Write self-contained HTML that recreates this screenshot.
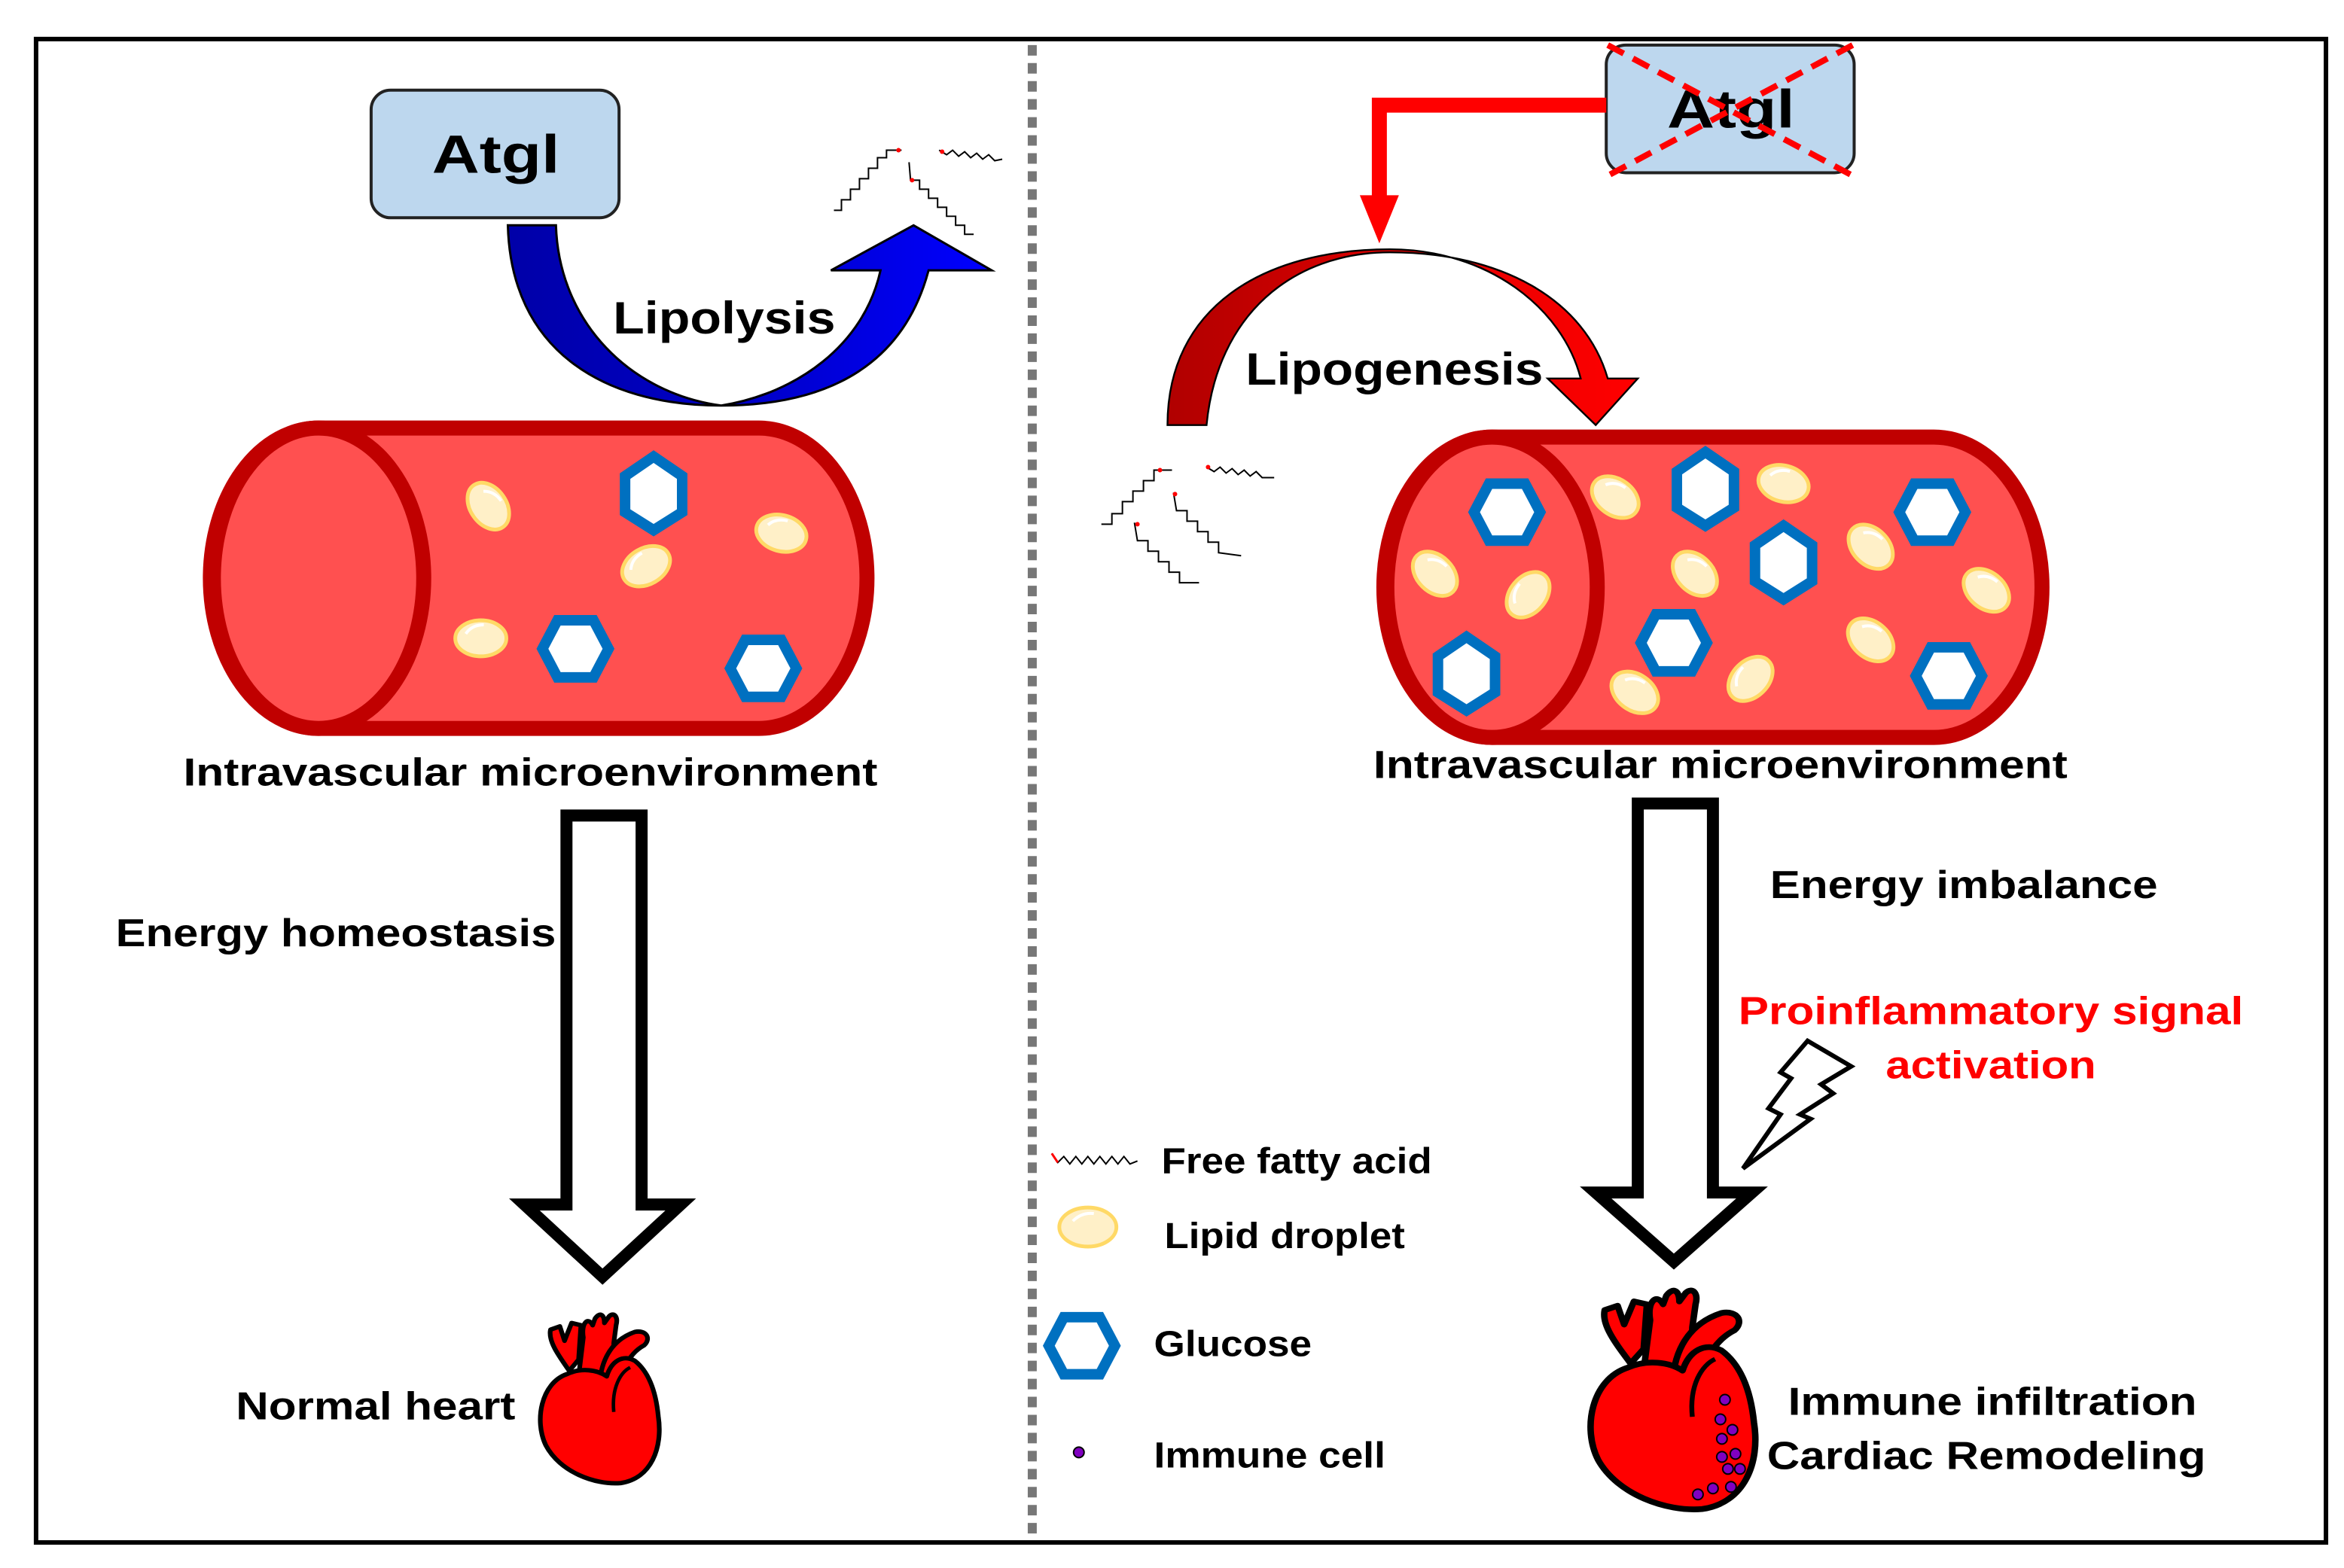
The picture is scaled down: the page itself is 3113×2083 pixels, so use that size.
<!DOCTYPE html>
<html><head><meta charset="utf-8"><style>
html,body{margin:0;padding:0;background:#fff}
svg{display:block}
text{font-family:"Liberation Sans",Arial,sans-serif;font-weight:bold}
</style></head><body>
<svg width="3113" height="2083" viewBox="0 0 1560 1044" preserveAspectRatio="none" xmlns="http://www.w3.org/2000/svg">
<defs>
<linearGradient id="bl" x1="0" x2="1" y1="0" y2="0"><stop offset="0" stop-color="#0000a8"/><stop offset="0.5" stop-color="#0000c8"/><stop offset="1" stop-color="#0000ff"/></linearGradient>
<linearGradient id="rd" x1="0" x2="1" y1="0" y2="0"><stop offset="0" stop-color="#b00000"/><stop offset="0.5" stop-color="#e00000"/><stop offset="1" stop-color="#ff0000"/></linearGradient>
<g id="drop"><ellipse rx="17" ry="12" fill="#fff0c8" stroke="#ffd966" stroke-width="2.5"/><path d="M-10,-3 Q-6,-9 2,-9" stroke="#fff" stroke-width="2" fill="none"/></g>
<g id="hex"><polygon points="-12,-19 12,-19 22,0 12,19 -12,19 -22,0" fill="#fff" stroke="#0070c0" stroke-width="7"/></g>
<g id="hexv"><polygon points="0,-24 19,-11 19,13 0,25 -19,13 -19,-11" fill="#fff" stroke="#0070c0" stroke-width="7"/></g>
<g id="heart">
<path d="M28,55 C18,40 10,28 12,18 L20,15 L24,28 L30,12 L38,14 L36,45 Z" fill="#f00" stroke="#000" stroke-width="4" stroke-linejoin="round"/>
<path d="M36,60 L40,25 C38,12 44,6 48,14 L50,8 C54,2 58,4 58,12 L62,6 C66,2 70,6 68,14 L66,30 C66,40 62,55 60,70 Z" fill="#f00" stroke="#000" stroke-width="4" stroke-linejoin="round"/>
<path d="M54,80 C52,50 62,28 84,20 C94,18 98,26 92,32 C78,40 70,58 70,82 Z" fill="#f00" stroke="#000" stroke-width="4" stroke-linejoin="round"/>
<path d="M26,58 C4,66 -2,100 8,122 C20,146 50,158 72,156 C98,152 108,124 104,96 C102,74 96,56 84,46 C74,40 64,46 60,60 C52,54 38,52 26,58 Z" fill="#f00" stroke="#000" stroke-width="4" stroke-linejoin="round"/>
<path d="M66,92 C64,70 72,56 80,52" fill="none" stroke="#000" stroke-width="3"/>
</g>
<g id="ffa" fill="none" stroke="#000" stroke-width="1"><polyline points="0,0 3,0 3,-4 7,-4 7,-8 11,-8 11,-12 15,-12 15,-16 19,-16 19,-20 23,-20 23,-24 27,-24 27,-28 33,-28"/></g>
</defs>

<rect x="24" y="26" width="1524" height="1001" fill="#fff" stroke="#000" stroke-width="3"/>
<line x1="687" y1="30" x2="687" y2="1025" stroke="#777" stroke-width="6" stroke-dasharray="7,5"/>

<!-- LEFT -->
<rect x="247" y="60" width="165" height="85" rx="13" fill="#bdd7ee" stroke="#222" stroke-width="2"/>
<text x="330" y="115" font-size="36" text-anchor="middle" textLength="85" lengthAdjust="spacingAndGlyphs">Atgl</text>
<path d="M338,150 L370,150 C372,215 420,262 480,270 C530,262 575,230 586,180 L553,180 L608,150 L660,180 L618,180 C602,240 555,270 480,270 C400,270 340,232 338,150 Z" fill="url(#bl)" stroke="#000" stroke-width="1.5"/>
<text x="482" y="222" font-size="30" text-anchor="middle" textLength="148" lengthAdjust="spacingAndGlyphs">Lipolysis</text>
<g fill="none" stroke="#000" stroke-width="1">
<polyline points="555,140 560,140 560,133 566,133 566,126 572,126 572,119 578,119 578,112 584,112 584,105 590,105 590,100 600,100"/>
<polyline points="605,108 606,120 612,120 612,126 618,126 618,132 624,132 624,138 630,138 630,144 636,144 636,150 642,150 642,156 648,156"/>
<polyline points="625,100 630,103 634,100 638,104 642,101 646,105 650,102 654,106 658,103 662,107 667,106"/>
</g>
<circle cx="598" cy="100" r="1.5" fill="red"/><circle cx="607" cy="120" r="1.5" fill="red"/><circle cx="627" cy="101" r="1.5" fill="red"/>

<path d="M212,285 L505,285 A72,100 0 0 1 505,485 L212,485 A72,100 0 0 1 212,285 Z" fill="#ff5050" stroke="#c00000" stroke-width="10"/>
<ellipse cx="212" cy="385" rx="70" ry="100" fill="#ff5050" stroke="#c00000" stroke-width="10"/>
<use href="#drop" transform="translate(325,337) rotate(55)"/>
<use href="#drop" transform="translate(520,355) rotate(15)"/>
<use href="#drop" transform="translate(430,377) rotate(-30)"/>
<use href="#drop" transform="translate(320,425) rotate(0)"/>
<use href="#hexv" transform="translate(435,328)"/>
<use href="#hex" transform="translate(383,432)"/>
<use href="#hex" transform="translate(508,445)"/>
<text x="353" y="523" font-size="26" text-anchor="middle" textLength="462" lengthAdjust="spacingAndGlyphs">Intravascular microenvironment</text>

<path d="M377,543 L427,543 L427,802 L453,802 L401,850 L349,802 L377,802 Z" fill="#fff" stroke="#000" stroke-width="8" stroke-linejoin="miter"/>
<text x="77" y="630" font-size="26" textLength="293" lengthAdjust="spacingAndGlyphs">Energy homeostasis</text>
<use href="#heart" transform="translate(357,872) scale(0.78,0.74)"/>
<text x="157" y="945" font-size="26" textLength="186" lengthAdjust="spacingAndGlyphs">Normal heart</text>

<!-- RIGHT -->
<rect x="1069" y="30" width="165" height="85" rx="13" fill="#bdd7ee" stroke="#222" stroke-width="2"/>
<text x="1152" y="85" font-size="36" text-anchor="middle" textLength="85" lengthAdjust="spacingAndGlyphs">Atgl</text>
<g stroke="#f00" stroke-width="4" stroke-dasharray="12,7"><line x1="1070" y1="30" x2="1233" y2="117"/><line x1="1233" y1="30" x2="1070" y2="117"/></g>
<path d="M1069,65 L913,65 L913,130 L905,130 L918,162 L931,130 L923,130 L923,75 L1069,75 Z" fill="#f00"/>
<path d="M777,283 C777,205 840,166 925,166 C990,166 1040,205 1052,252 L1030,252 L1062,283 L1090,252 L1070,252 C1055,200 1000,168 925,168 C860,168 810,210 803,283 Z" fill="url(#rd)" stroke="#000" stroke-width="1.2"/>
<text x="928" y="256" font-size="30" text-anchor="middle" textLength="198" lengthAdjust="spacingAndGlyphs">Lipogenesis</text>
<g fill="none" stroke="#000" stroke-width="1">
<polyline points="733,349 740,349 740,342 747,342 747,334 754,334 754,327 761,327 761,320 768,320 768,313 780,313"/>
<polyline points="755,348 757,360 764,360 764,367 771,367 771,374 778,374 778,381 785,381 785,388 798,388"/>
<polyline points="781,328 783,340 790,340 790,347 797,347 797,354 804,354 804,361 811,361 811,368 826,370"/>
<polyline points="803,311 808,314 812,311 816,315 820,312 824,316 828,313 832,317 836,314 840,318 848,318"/>
</g>
<circle cx="772" cy="313" r="1.5" fill="red"/><circle cx="782" cy="329" r="1.5" fill="red"/><circle cx="757" cy="349" r="1.5" fill="red"/><circle cx="804" cy="311" r="1.5" fill="red"/>

<path d="M993,291 L1287,291 A72,100 0 0 1 1287,491 L993,491 A72,100 0 0 1 993,291 Z" fill="#ff5050" stroke="#c00000" stroke-width="10"/>
<ellipse cx="993" cy="391" rx="70" ry="100" fill="#ff5050" stroke="#c00000" stroke-width="10"/>
<use href="#drop" transform="translate(955,382) rotate(45)"/>
<use href="#drop" transform="translate(1017,396) rotate(-50)"/>
<use href="#drop" transform="translate(1075,331) rotate(35)"/>
<use href="#drop" transform="translate(1187,322) rotate(15)"/>
<use href="#drop" transform="translate(1128,382) rotate(45)"/>
<use href="#drop" transform="translate(1245,364) rotate(45)"/>
<use href="#drop" transform="translate(1322,393) rotate(40)"/>
<use href="#drop" transform="translate(1245,426) rotate(40)"/>
<use href="#drop" transform="translate(1088,461) rotate(35)"/>
<use href="#drop" transform="translate(1165,452) rotate(-45)"/>
<use href="#hex" transform="translate(1003,341)"/>
<use href="#hexv" transform="translate(1135,325)"/>
<use href="#hexv" transform="translate(1187,374)"/>
<use href="#hex" transform="translate(1286,341)"/>
<use href="#hex" transform="translate(1114,428)"/>
<use href="#hexv" transform="translate(976,448)"/>
<use href="#hex" transform="translate(1297,450)"/>
<text x="1145" y="518" font-size="26" text-anchor="middle" textLength="462" lengthAdjust="spacingAndGlyphs">Intravascular microenvironment</text>

<path d="M1090,535 L1140,535 L1140,794 L1166,794 L1114,840 L1062,794 L1090,794 Z" fill="#fff" stroke="#000" stroke-width="8"/>
<text x="1178" y="598" font-size="26" textLength="258" lengthAdjust="spacingAndGlyphs">Energy imbalance</text>
<text x="1325" y="682" font-size="26" fill="#f00" text-anchor="middle" textLength="336" lengthAdjust="spacingAndGlyphs">Proinflammatory signal</text>
<text x="1325" y="718" font-size="26" fill="#f00" text-anchor="middle" textLength="140" lengthAdjust="spacingAndGlyphs">activation</text>
<path d="M1203,693 L1232,710 L1212,722 L1220,728 L1198,742 L1205,745 L1160,778 L1185,742 L1177,738 L1192,718 L1185,714 Z" fill="#fff" stroke="#000" stroke-width="3" stroke-linejoin="miter"/>

<use href="#heart" transform="translate(1055,855) scale(1.08,0.96)"/>
<g fill="#8000c0" stroke="#000" stroke-width="1">
<circle cx="1148" cy="932" r="3.5"/><circle cx="1145" cy="945" r="3.5"/><circle cx="1153" cy="952" r="3.5"/><circle cx="1146" cy="958" r="3.5"/><circle cx="1146" cy="970" r="3.5"/><circle cx="1155" cy="968" r="3.5"/><circle cx="1150" cy="978" r="3.5"/><circle cx="1158" cy="978" r="3.5"/><circle cx="1152" cy="990" r="3.5"/><circle cx="1140" cy="991" r="3.5"/><circle cx="1130" cy="995" r="3.5"/>
</g>
<text x="1326" y="942" font-size="26" text-anchor="middle" textLength="272" lengthAdjust="spacingAndGlyphs">Immune infiltration</text>
<text x="1322" y="978" font-size="26" text-anchor="middle" textLength="292" lengthAdjust="spacingAndGlyphs">Cardiac Remodeling</text>

<!-- legend -->
<polyline points="700,768 704,774 708,770 712,775 716,770 720,775 724,770 728,775 732,770 736,775 740,770 744,775 748,770 752,775 757,773" fill="none" stroke="#000" stroke-width="1"/>
<line x1="700" y1="768" x2="704" y2="774" stroke="red" stroke-width="1.5"/>
<text x="773" y="781" font-size="24" textLength="180" lengthAdjust="spacingAndGlyphs">Free fatty acid</text>
<g transform="translate(724,817)"><ellipse rx="19" ry="13" fill="#fff0c8" stroke="#ffd966" stroke-width="2.5"/><path d="M-10,-4 Q-4,-10 4,-9" stroke="#fff" stroke-width="2" fill="none"/></g>
<text x="775" y="831" font-size="24" textLength="160" lengthAdjust="spacingAndGlyphs">Lipid droplet</text>
<polygon points="708,877 732,877 742,896 732,915 708,915 698,896" fill="#fff" stroke="#0070c0" stroke-width="7"/>
<text x="768" y="903" font-size="24" textLength="105" lengthAdjust="spacingAndGlyphs">Glucose</text>
<circle cx="718" cy="967" r="3.5" fill="#8000c0" stroke="#000" stroke-width="1"/>
<text x="768" y="977" font-size="24" textLength="154" lengthAdjust="spacingAndGlyphs">Immune cell</text>
</svg>
</body></html>
